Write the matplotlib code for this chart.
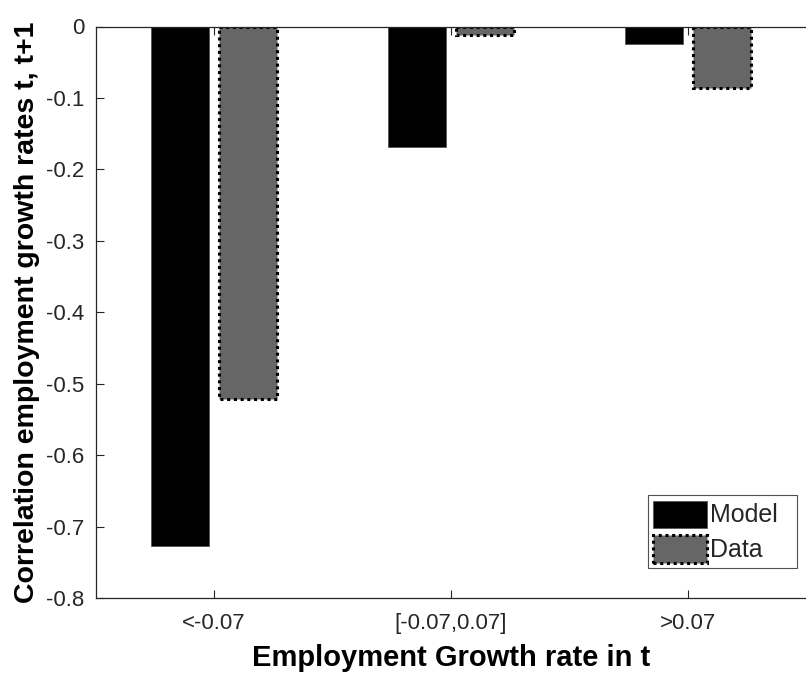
import matplotlib.pyplot as plt
import numpy as np

# bar values
categories = ['<-0.07', '[-0.07,0.07]', '>0.07']
model = [-0.727, -0.168, -0.024]
data = [-0.521, -0.012, -0.086]
yticks = [0, -0.1, -0.2, -0.3, -0.4, -0.5, -0.6, -0.7, -0.8]

plt.rcParams['font.family'] = ['Liberation Sans', 'DejaVu Sans']
plt.rcParams['text.color'] = '#262626'
plt.rcParams['xtick.labelcolor'] = '#262626'
plt.rcParams['ytick.labelcolor'] = '#262626'

fig = plt.figure(figsize=(8.06, 6.73), dpi=100)
ax = fig.add_axes([95.5 / 806, 75 / 673, 711 / 806, 571.5 / 673])

x = np.arange(1, len(categories) + 1)
w = 0.245
ax.bar(x - 0.145, model, w, color='black', edgecolor='#555555', linewidth=0.6, label='Model  ')
ax.bar(x + 0.145, data, w, color='#666666', edgecolor='black', linewidth=2.2,
       linestyle=(0, (1, 1.2)), label='Data')

ax.set_xlim(0.5, 3.5)
ax.set_ylim(-0.8, 0)
ax.set_xticks(x)
ax.set_xticklabels(categories)
ax.set_yticks(yticks)
ax.set_yticklabels(['0' if v == 0 else '{:.1f}'.format(v) for v in yticks])
ax.tick_params(direction='in', top=True, right=False, labelsize=16, length=6, width=0.8,
               color='#262626')
ax.tick_params(axis='x', pad=11)
ax.tick_params(axis='y', pad=8)
ax.spines['right'].set_visible(False)
for s in ax.spines.values():
    s.set_linewidth(0.9)
    s.set_color('#262626')

ax.set_xlabel('Employment Growth rate in t', fontsize=21, fontweight='bold', labelpad=7)
ax.set_ylabel('Correlation employment growth rates t, t+1', fontsize=20.5, fontweight='bold', labelpad=4)

leg = ax.legend(loc='lower right', bbox_to_anchor=(797 / 806, 105 / 673),
                bbox_transform=fig.transFigure, fontsize=18, frameon=True, fancybox=False,
                edgecolor='#262626', borderpad=0.22, handlelength=2.15, handleheight=1.3,
                handletextpad=0.12, labelspacing=0.3, borderaxespad=0)
leg.get_frame().set_linewidth(0.8)

fig.savefig('out.png', dpi=100)
